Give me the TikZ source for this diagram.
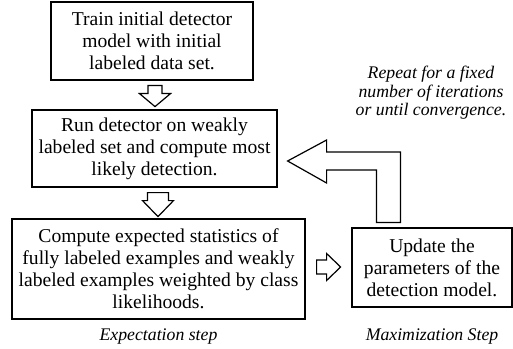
\documentclass[tikz,border=0pt]{standalone}
\usepackage{fontspec}
\setmainfont{Liberation Serif}
\usetikzlibrary{calc}

\tikzset{every picture/.style={line width=0.75pt}}
\tikzset{
  stepbox/.style={draw, line width=0.9pt, align=center, inner sep=0pt, font=\fontsize{14.7}{16.6}\selectfont},
  steplabel/.style={align=center, inner sep=0pt, font=\fontsize{13.3}{13.9}\selectfont\itshape},
  blockarr/.style={draw, line width=0.9pt, line join=miter}
}

\begin{document}
\begin{tikzpicture}[x=0.75pt,y=0.75pt,yscale=-1,xscale=1]
\useasboundingbox (0,0) rectangle (513,349);

%Shape: Rectangle [train]
\node[stepbox, minimum width=151.5pt, minimum height=58.5pt] (train) at (152,41) {Train initial detector\\model with initial\\labeled data set.};
%Shape: Rectangle [run]
\node[stepbox, minimum width=183.75pt, minimum height=57.75pt] (run) at (154.5,148.5) {Run detector on weakly\\labeled set and compute most\\likely detection.};
%Shape: Rectangle [expect]
\node[stepbox, minimum width=219.75pt, minimum height=75pt] (expect) at (158.5,269) {Compute expected statistics of\\fully labeled examples and weakly\\labeled examples weighted by class\\likelihoods.};
%Shape: Rectangle [update]
\node[stepbox, minimum width=120pt, minimum height=59.25pt] (update) at (432,267.5) {Update the\\parameters of the\\detection model.};

%Block arrow train -> run
\coordinate (ar1) at ($(train.south)+(3,5)$);
\draw[blockarr] ($(ar1)+(-7,0)$) -- ++(0,8) -- ++(-8.5,0) -- ($(ar1)+(0,21)$) -- ++(15.5,-13) -- ++(-8.5,0) -- ++(0,-8) -- cycle;
%Block arrow run -> expect
\coordinate (ar2) at ($(run.south)+(3.5,5)$);
\draw[blockarr] ($(ar2)+(-10.5,0)$) -- ++(0,8) -- ++(-5,0) -- ($(ar2)+(0,24)$) -- ++(15.5,-16) -- ++(-5,0) -- ++(0,-8) -- cycle;
%Block arrow expect -> update
\coordinate (ar3) at ($(expect.east)+(11,-2)$);
\draw[blockarr] ($(ar3)+(0,-7)$) -- ++(10,0) -- ++(0,-6.5) -- ($(ar3)+(24,0)$) -- ++(-14,13.5) -- ++(0,-6.5) -- ++(-10,0) -- cycle;

%Bent arrow update -> run
\coordinate (tip) at ($(run.east)+(10,12.5)$);
\draw[blockarr] ($(update.north west)+(25,-5)$) |- ($(tip)+(39,9)$) -- ++(0,13) -- (tip) -- ++(39,-21) -- ++(0,12) -| ($(update.north west)+(49,-5)$) -- cycle;

% Text Node
\node[steplabel] (repeat) at (431,93) {Repeat for a fixed\\number of iterations\\or until convergence.};
% Text Node
\node[steplabel] (estep) at ($(expect.south)+(0,17)$) {Expectation step};
% Text Node
\node[steplabel] (mstep) at ($(update.south)+(0,29)$) {Maximization Step};

\end{tikzpicture}
\end{document}
